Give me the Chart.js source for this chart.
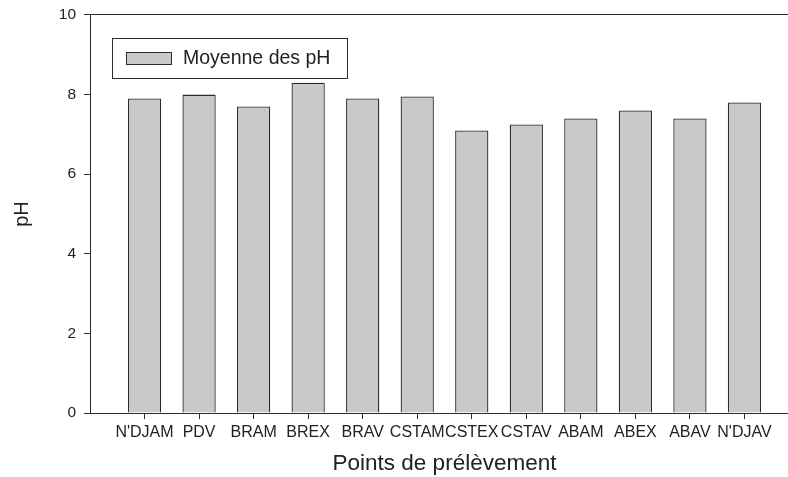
<!DOCTYPE html>
<html>
<head>
<meta charset="utf-8">
<script src="https://cdn.jsdelivr.net/npm/chart.js@4/dist/chart.umd.min.js"></script>
<style>
  html, body { margin: 0; padding: 0; background: #fff; overflow: hidden; }
  canvas { display: block; }
</style>
</head>
<body>
<canvas id="phChart" width="799" height="477"></canvas>
<script>
// Points de prélèvement (x categories)
const categories = ["N'DJAM", 'PDV', 'BRAM', 'BREX', 'BRAV', 'CSTAM', 'CSTEX', 'CSTAV', 'ABAM', 'ABEX', 'ABAV', "N'DJAV"];
// Moyenne des pH
const phValues = [7.9, 8.0, 7.7, 8.3, 7.9, 7.95, 7.1, 7.25, 7.4, 7.6, 7.4, 7.8];
const yTicks = [0, 2, 4, 6, 8, 10];

const seriesLabel = 'Moyenne des pH';
const FONT = "'Liberation Sans', Arial, Helvetica, sans-serif";
const INK = '#2b2b2b';
const BAR_FILL = '#c8c9cb';

// Legend drawn inside the plot, as a framed box (SigmaPlot style)
const boxedLegend = {
    id: 'boxedLegend',
    afterDraw(chart) {
        const { ctx, chartArea } = chart;
        const ds = chart.data.datasets[0];
        ctx.save();
        ctx.font = '19.5px ' + FONT;
        const textW = ctx.measureText(ds.label).width;
        const x = Math.round(chartArea.left + 22);
        const y = Math.round(chartArea.top + 23);
        const swW = 45, swH = 12, padL = 14, gap = 12, padR = 17, h = 40;
        const w = Math.round(padL + swW + gap + textW + padR);

        ctx.lineWidth = 1;
        ctx.strokeStyle = INK;
        ctx.fillStyle = '#fff';
        ctx.fillRect(x, y, w, h);
        ctx.strokeRect(x + 0.5, y + 0.5, w, h);

        ctx.fillStyle = ds.backgroundColor;
        ctx.fillRect(x + padL, y + h / 2 - swH / 2, swW, swH);
        ctx.strokeRect(x + padL + 0.5, y + h / 2 - swH / 2 + 0.5, swW, swH);

        ctx.fillStyle = '#222';
        ctx.textBaseline = 'middle';
        ctx.textAlign = 'left';
        ctx.fillText(ds.label, x + padL + swW + gap, y + h / 2 + 1);
        ctx.restore();
    }
};

const ctx = document.getElementById('phChart').getContext('2d');

new Chart(ctx, {
    type: 'bar',
    data: {
        datasets: [{
            label: seriesLabel,
            data: phValues.map((v, i) => ({ x: i + 1, y: v })),
            backgroundColor: BAR_FILL,
            borderColor: INK,
            borderWidth: 1.3,
            categoryPercentage: 1,
            barPercentage: 0.61
        }]
    },
    options: {
        responsive: false,
        animation: false,
        layout: { padding: { top: 5, right: 0, bottom: 0, left: 0 } },
        plugins: {
            legend: { display: false },
            tooltip: { enabled: false }
        },
        scales: {
            x: {
                type: 'linear',
                position: 'bottom',
                offset: false,
                min: 0,
                max: categories.length + 1,
                afterBuildTicks: (scale) => {
                    scale.ticks = categories.map((_, i) => ({ value: i + 1 }));
                },
                afterFit: (scale) => { scale.height = 64; },
                grid: {
                    offset: false,
                    drawOnChartArea: false,
                    drawTicks: true,
                    tickLength: 6,
                    color: INK
                },
                border: { display: true, color: INK, width: 1 },
                ticks: {
                    autoSkip: false,
                    maxRotation: 0,
                    padding: 4,
                    color: '#222',
                    font: { family: FONT, size: 16 },
                    callback: (v) => categories[v - 1] || ''
                },
                title: {
                    display: true,
                    text: 'Points de prélèvement',
                    color: '#222',
                    font: { family: FONT, size: 22.5 },
                    padding: { top: 0, bottom: 0 }
                }
            },
            xTop: {
                type: 'linear',
                axis: 'x',
                position: 'top',
                afterFit: (scale) => { scale.height = 0; },
                grid: { display: false, drawTicks: false },
                ticks: { display: false },
                border: { display: true, color: INK, width: 1 }
            },
            y: {
                min: 0,
                max: 10,
                afterBuildTicks: (scale) => {
                    scale.ticks = yTicks.map(v => ({ value: v }));
                },
                afterFit: (scale) => { scale.width = 90; },
                grid: {
                    drawOnChartArea: false,
                    drawTicks: true,
                    tickLength: 6,
                    color: INK
                },
                border: { display: true, color: INK, width: 1 },
                ticks: {
                    padding: 8,
                    color: '#222',
                    font: { family: FONT, size: 15.5, lineHeight: 0.9 }
                },
                title: {
                    display: true,
                    text: 'pH',
                    color: '#222',
                    font: { family: FONT, size: 20 },
                    padding: { top: 10, bottom: 0 }
                }
            }
        }
    },
    plugins: [boxedLegend]
});
</script>
</body>
</html>
